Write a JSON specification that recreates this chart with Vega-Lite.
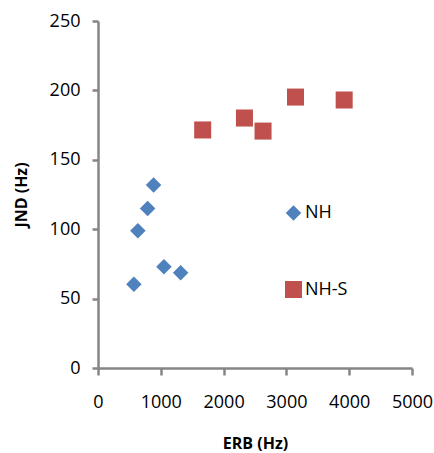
{
  "$schema": "https://vega.github.io/schema/vega-lite/v6.json",
  "width": 314,
  "height": 347,
  "autosize": {"type": "none"},
  "padding": {"left": 98, "top": 21, "right": 22, "bottom": 85},
  "background": "white",
  "config": {
    "view": {"stroke": null},
    "font": "Open Sans"
  },
  "data": {
    "values": [
      {"series": "NH", "erb": 571, "jnd": 60.3},
      {"series": "NH", "erb": 1050, "jnd": 73.0},
      {"series": "NH", "erb": 1316, "jnd": 68.7},
      {"series": "NH", "erb": 635, "jnd": 98.9},
      {"series": "NH", "erb": 790, "jnd": 115},
      {"series": "NH", "erb": 885, "jnd": 131.8},
      {"series": "NH-S", "erb": 1667, "jnd": 171.5},
      {"series": "NH-S", "erb": 2332, "jnd": 180.1},
      {"series": "NH-S", "erb": 2628, "jnd": 170.7},
      {"series": "NH-S", "erb": 3145, "jnd": 195.2},
      {"series": "NH-S", "erb": 3920, "jnd": 193.1}
    ]
  },
  "mark": {"type": "point", "filled": true, "opacity": 1},
  "encoding": {
    "x": {
      "field": "erb", "type": "quantitative",
      "scale": {"domain": [0, 5000], "nice": false, "zero": true},
      "axis": {
        "title": "ERB (Hz)", "values": [0, 1000, 2000, 3000, 4000, 5000], "format": "d",
        "grid": false, "domainColor": "#868686", "domainWidth": 2.5,
        "tickColor": "#868686", "tickWidth": 2.5, "tickSize": 7,
        "labelFontSize": 18, "labelColor": "#000000", "labelPadding": 18,
        "labelFont": "Open Sans", "labelFlush": false,
        "titleFont": "Open Sans", "titleFontSize": 16, "titleFontWeight": "bold",
        "titleColor": "#000000", "titlePadding": 24
      }
    },
    "y": {
      "field": "jnd", "type": "quantitative",
      "scale": {"domain": [0, 250], "nice": false, "zero": true},
      "axis": {
        "title": "JND (Hz)", "values": [0, 50, 100, 150, 200, 250],
        "grid": false, "domainColor": "#868686", "domainWidth": 2.5,
        "tickColor": "#868686", "tickWidth": 2.5, "tickSize": 6,
        "labelFontSize": 18, "labelColor": "#000000", "labelPadding": 12,
        "labelFont": "Open Sans", "labelFlush": false,
        "titleFont": "Open Sans", "titleFontSize": 16, "titleFontWeight": "bold",
        "titleColor": "#000000", "titlePadding": 20
      }
    },
    "color": {
      "field": "series", "type": "nominal",
      "scale": {"domain": ["NH", "NH-S"], "range": ["#4F81BD", "#C0504D"]},
      "legend": {
        "title": null, "orient": "none", "legendX": 186, "legendY": 183,
        "padding": 0, "rowPadding": 53, "labelFontSize": 18, "labelFont": "Open Sans",
        "labelColor": "#000000", "labelOffset": 2, "symbolOpacity": 1
      }
    },
    "shape": {
      "field": "series", "type": "nominal",
      "scale": {"domain": ["NH", "NH-S"], "range": ["diamond", "square"]}
    },
    "size": {
      "field": "series", "type": "nominal",
      "scale": {"domain": ["NH", "NH-S"], "range": [240, 290]}
    }
  }
}
